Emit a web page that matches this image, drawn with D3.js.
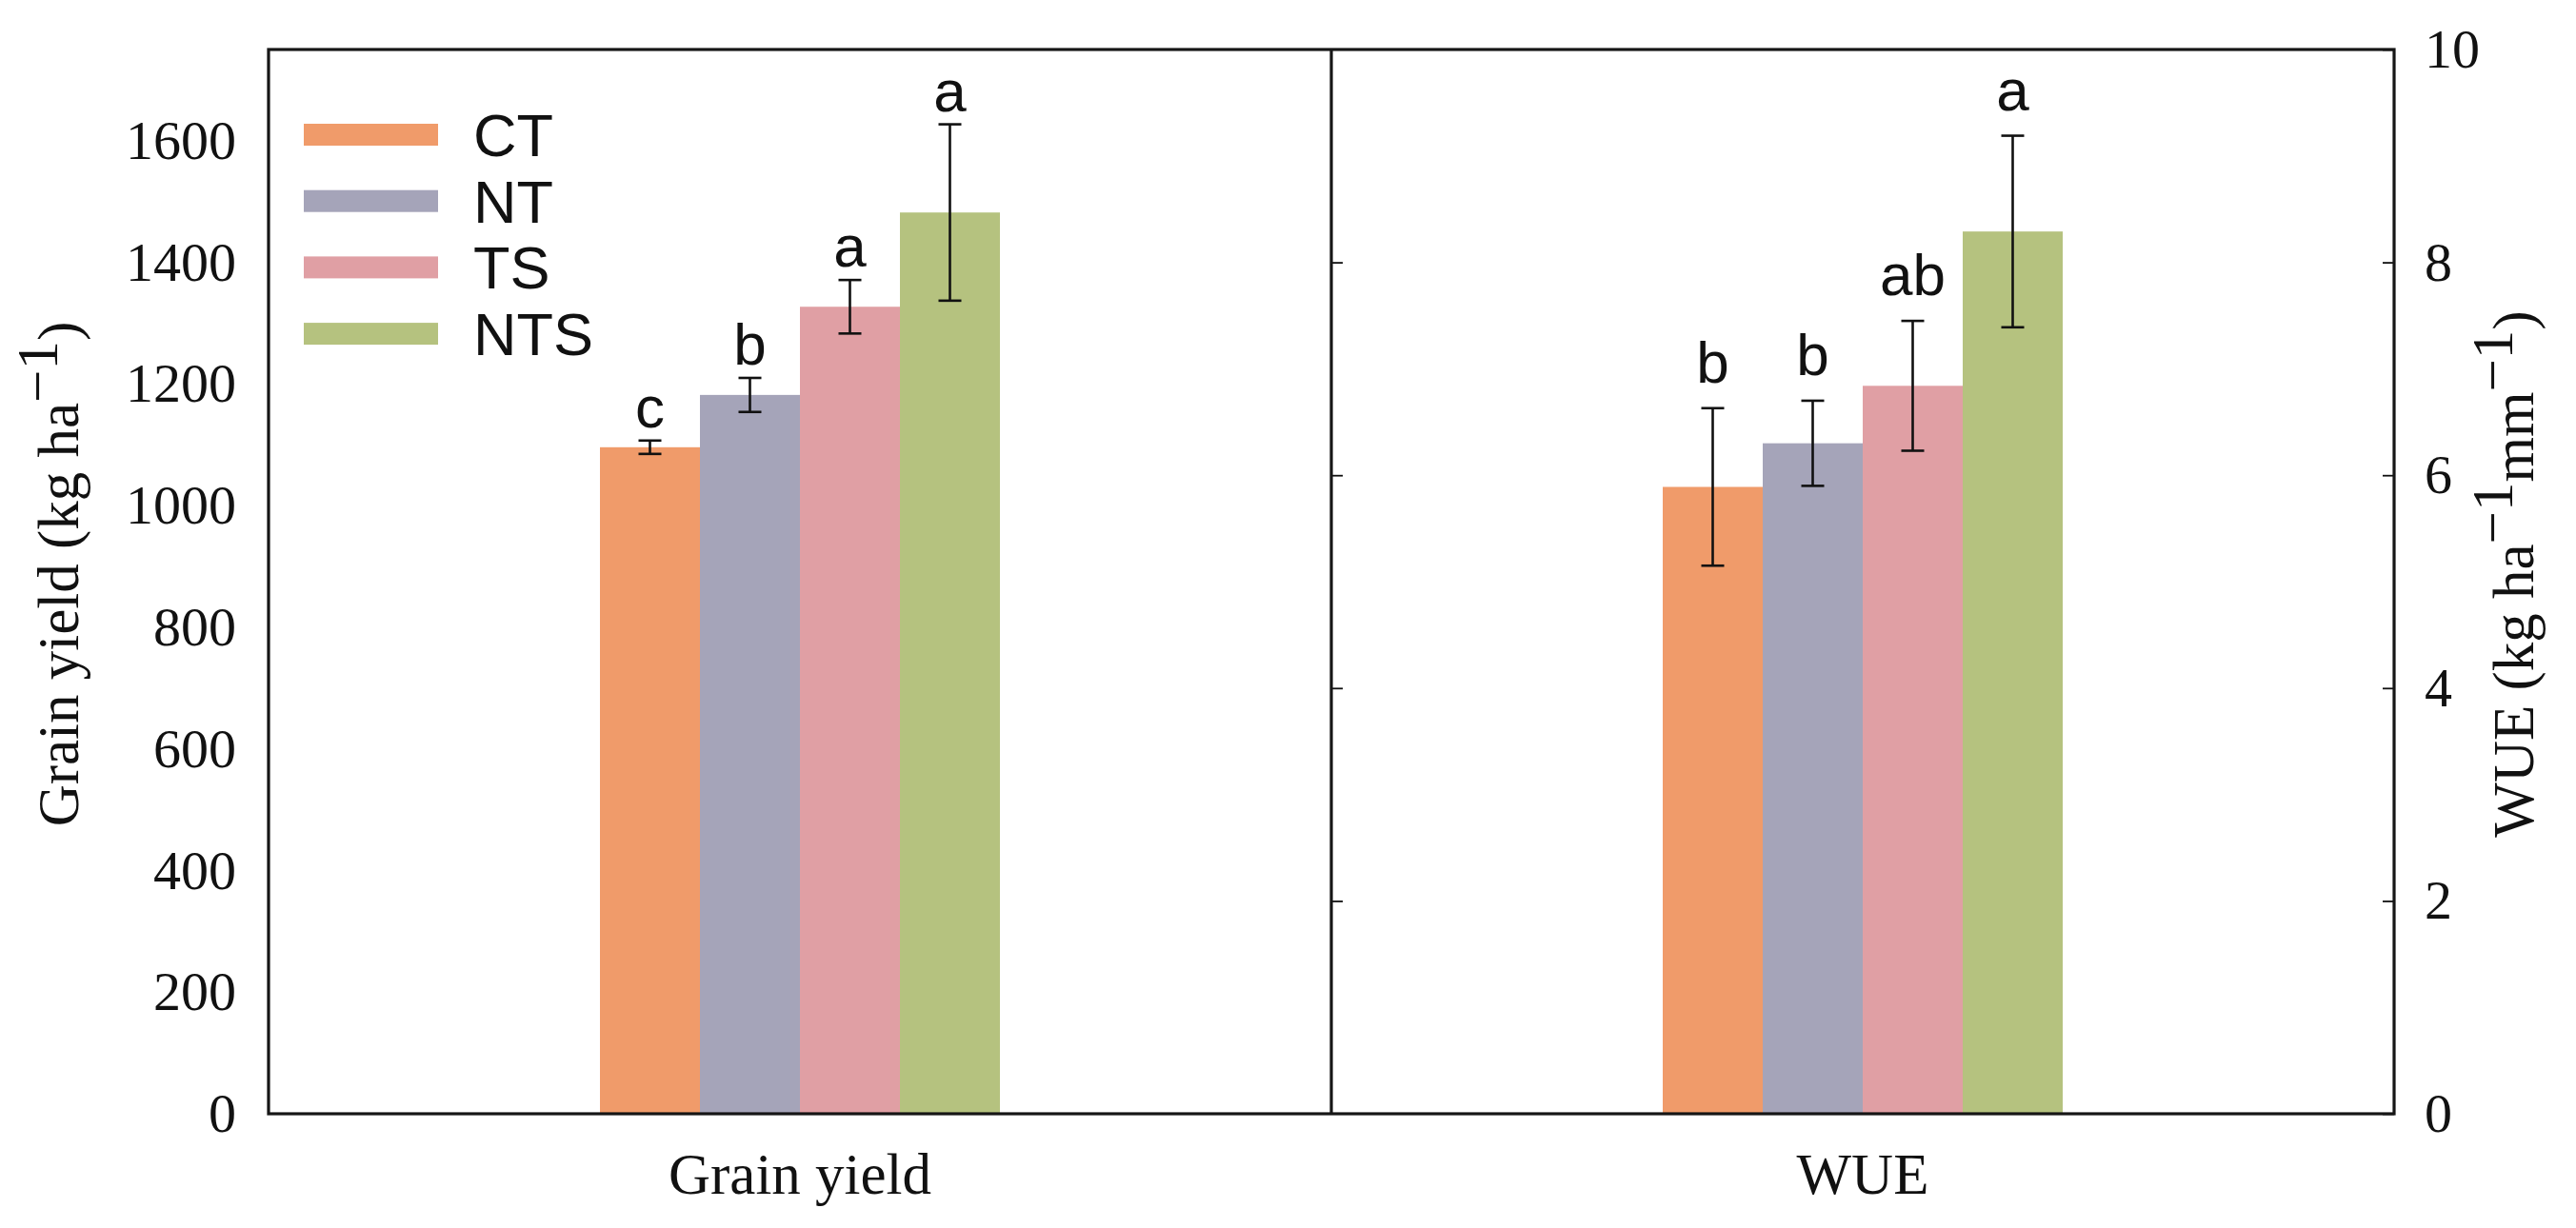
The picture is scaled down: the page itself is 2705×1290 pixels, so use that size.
<!DOCTYPE html>
<html>
<head>
<meta charset="utf-8">
<script src="https://cdn.jsdelivr.net/npm/d3@7"></script>
<style>
  body { margin: 0; background: #fff; }
  svg { display: block; }
</style>
</head>
<body>
<div id="chart"></div>
<script>
// data
const treatments = ["CT", "NT", "TS", "NTS"];
const colors = ["#F09B6A", "#A5A4B9", "#E09FA4", "#B5C27F"];
const panels = ["Grain yield", "WUE"];

const grainMean = [1096, 1182, 1327, 1482];
const grainErr = [11, 28, 44, 145];
const grainLetters = ["c", "b", "a", "a"];

const wueMean = [5.89, 6.30, 6.84, 8.29];
const wueErr = [0.74, 0.40, 0.61, 0.90];
const wueLetters = ["b", "b", "ab", "a"];

const grainTicks = [0, 200, 400, 600, 800, 1000, 1200, 1400, 1600];
const wueTicks = [0, 2, 4, 6, 8, 10];

const W = 2705, H = 1290;
const plotL = 282, plotR = 2514, plotT = 52, plotB = 1170;
const serif = "'Liberation Serif', 'Times New Roman', serif";
const sans = "'Liberation Sans', Arial, sans-serif";

const svg = d3.select("#chart").append("svg")
    .attr("width", W)
    .attr("height", H);

// scales
const x0 = d3.scaleBand().domain(panels).range([plotL, plotR]);
const groupW = 420;
const x1 = d3.scaleBand().domain(treatments).range([0, groupW]);
const yGrain = d3.scaleLinear().domain([0, 1750]).range([plotB, plotT]);
const yWue = d3.scaleLinear().domain([0, 10]).range([plotB, plotT]);

const panelData = [
    { name: "Grain yield", mean: grainMean, err: grainErr, letters: grainLetters, y: yGrain, gap: 14 },
    { name: "WUE", mean: wueMean, err: wueErr, letters: wueLetters, y: yWue, gap: 27 }
];

panelData.forEach(p => {
    const gx = x0(p.name) + (x0.bandwidth() - groupW) / 2;
    const g = svg.append("g").attr("transform", "translate(" + gx + ",0)");
    const rows = treatments.map((t, i) => ({ t: t, v: p.mean[i], e: p.err[i], l: p.letters[i], c: colors[i] }));

    g.selectAll("rect")
        .data(rows)
        .enter()
        .append("rect")
        .attr("x", d => x1(d.t))
        .attr("width", x1.bandwidth())
        .attr("y", d => p.y(d.v))
        .attr("height", d => plotB - p.y(d.v))
        .attr("fill", d => d.c);

    // error bars
    const eb = g.selectAll(".eb")
        .data(rows)
        .enter()
        .append("g")
        .attr("class", "eb")
        .attr("stroke", "#111")
        .attr("stroke-width", 2.6);
    const cx = d => x1(d.t) + x1.bandwidth() / 2;
    eb.append("line")
        .attr("x1", cx).attr("x2", cx)
        .attr("y1", d => p.y(d.v + d.e))
        .attr("y2", d => p.y(d.v - d.e));
    eb.append("line")
        .attr("x1", d => cx(d) - 12).attr("x2", d => cx(d) + 12)
        .attr("y1", d => p.y(d.v + d.e))
        .attr("y2", d => p.y(d.v + d.e));
    eb.append("line")
        .attr("x1", d => cx(d) - 12).attr("x2", d => cx(d) + 12)
        .attr("y1", d => p.y(d.v - d.e))
        .attr("y2", d => p.y(d.v - d.e));

    // significance letters
    g.selectAll(".sig")
        .data(rows)
        .enter()
        .append("text")
        .attr("class", "sig")
        .attr("x", cx)
        .attr("y", d => p.y(d.v + d.e) - p.gap)
        .attr("text-anchor", "middle")
        .style("font-family", sans)
        .style("font-size", "62px")
        .attr("fill", "#111")
        .text(d => d.l);

    // category label under the panel
    svg.append("text")
        .attr("x", x0(p.name) + x0.bandwidth() / 2)
        .attr("y", 1254)
        .attr("text-anchor", "middle")
        .style("font-family", serif)
        .style("font-size", "61px")
        .attr("fill", "#111")
        .text(p.name);
});

// left axis (labels only)
const axL = svg.append("g")
    .attr("transform", "translate(" + plotL + ",0)")
    .call(d3.axisLeft(yGrain).tickValues(grainTicks).tickFormat(d3.format("d")).tickSize(0).tickPadding(34));
axL.select(".domain").remove();
axL.selectAll("text").style("font-family", serif).style("font-size", "58px").attr("fill", "#111");

// right axis, ticks pointing inward
const axR = svg.append("g")
    .attr("transform", "translate(" + plotR + ",0)")
    .call(d3.axisRight(yWue).tickValues(wueTicks).tickFormat(d3.format("d")).tickSize(-12).tickPadding(32));
axR.select(".domain").remove();
axR.selectAll("line").attr("stroke", "#111").attr("stroke-width", 1.8);
axR.selectAll("text").style("font-family", serif).style("font-size", "58px").attr("fill", "#111");

// ticks on the divider for the WUE panel
const axM = svg.append("g")
    .attr("transform", "translate(" + x0("WUE") + ",0)")
    .call(d3.axisRight(yWue).tickValues([2, 4, 6, 8]).tickSize(12).tickFormat(""));
axM.select(".domain").remove();
axM.selectAll("line").attr("stroke", "#111").attr("stroke-width", 1.8);

// frame and divider
svg.append("rect")
    .attr("x", plotL).attr("y", plotT)
    .attr("width", plotR - plotL).attr("height", plotB - plotT)
    .attr("fill", "none").attr("stroke", "#161616").attr("stroke-width", 3.2);
svg.append("line")
    .attr("x1", x0("WUE")).attr("x2", x0("WUE"))
    .attr("y1", plotT).attr("y2", plotB)
    .attr("stroke", "#161616").attr("stroke-width", 3.2);

// axis titles
const tl = svg.append("text")
    .attr("transform", "translate(82," + ((plotT + plotB) / 2 - 8) + ") rotate(-90)")
    .attr("text-anchor", "middle")
    .style("font-family", serif)
    .style("font-size", "61px")
    .attr("fill", "#111");
tl.append("tspan").text("Grain yield (kg ha");
tl.append("tspan").attr("dy", -22).text("\u22121");
tl.append("tspan").attr("dy", 22).text(")");

const tr = svg.append("text")
    .attr("transform", "translate(2660," + ((plotT + plotB) / 2 - 8) + ") rotate(-90)")
    .attr("text-anchor", "middle")
    .style("font-family", serif)
    .style("font-size", "61px")
    .attr("fill", "#111");
tr.append("tspan").text("WUE (kg ha");
tr.append("tspan").attr("dy", -22).text("\u22121");
tr.append("tspan").attr("dy", 22).text("mm");
tr.append("tspan").attr("dy", -22).text("\u22121");
tr.append("tspan").attr("dy", 22).text(")");

// legend
const leg = svg.append("g")
    .selectAll("g")
    .data(treatments)
    .enter()
    .append("g")
    .attr("transform", (d, i) => "translate(319," + (130 + i * 69.7) + ")");
leg.append("rect")
    .attr("width", 141)
    .attr("height", 23)
    .attr("fill", (d, i) => colors[i]);
leg.append("text")
    .attr("x", 178)
    .attr("y", 34)
    .style("font-family", sans)
    .style("font-size", "63px")
    .attr("fill", "#111")
    .text(d => d);
</script>
</body>
</html>
